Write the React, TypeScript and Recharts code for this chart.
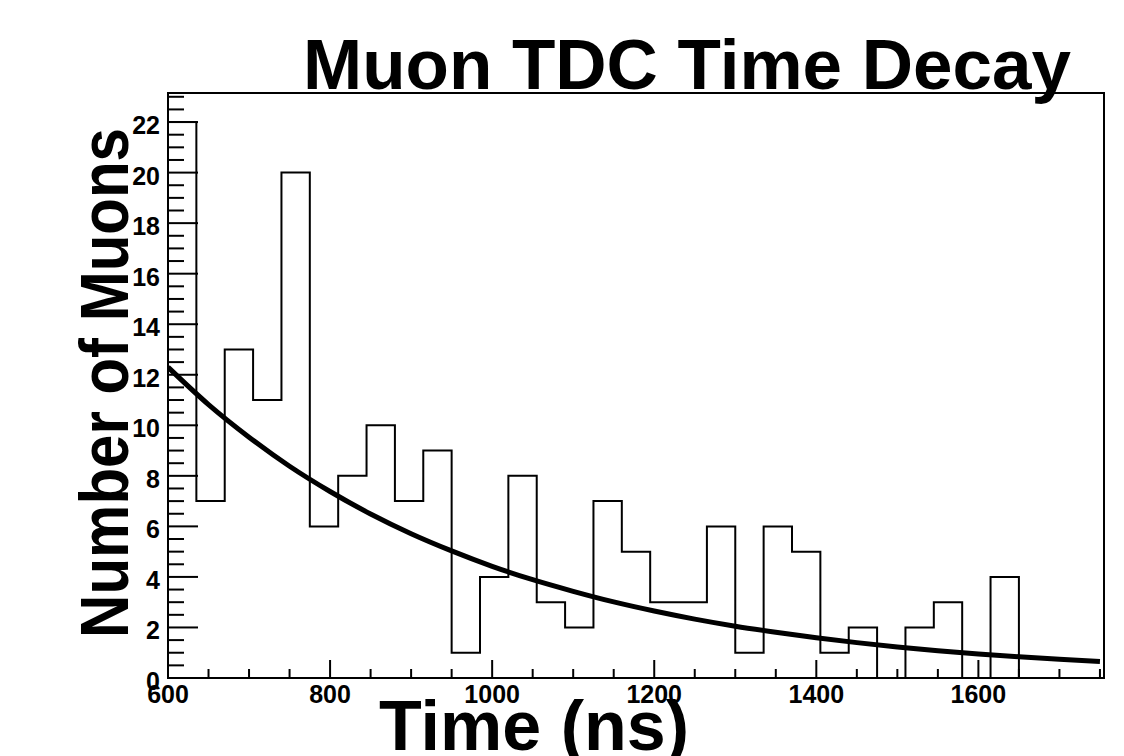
import { ComposedChart, Line, XAxis, YAxis, ReferenceArea } from 'recharts';

// histogram bins (lower edge, ns) and counts per bin
const binLow = [
  600, 635, 670, 705, 740, 775, 810, 845, 880, 915, 950,
  985, 1020, 1055, 1090, 1125, 1160, 1195, 1230, 1265, 1300, 1335,
  1370, 1405, 1440, 1475, 1510, 1545, 1580, 1615, 1650, 1685, 1720, 1755,
];
const counts = [
  22, 7, 13, 11, 20, 6, 8, 10, 7, 9, 1,
  4, 8, 3, 2, 7, 5, 3, 3, 6, 1, 6,
  5, 1, 2, 0, 2, 3, 0, 4, 0, 0, 0, 0,
];

// exponential fit curve
const fitTime = [
  600, 650, 700, 750, 800, 850, 900, 950, 1000, 1050, 1100, 1150,
  1200, 1250, 1300, 1350, 1400, 1450, 1500, 1550, 1600, 1650, 1700, 1750,
];
const fitValue = [
  12.3, 10.82, 9.53, 8.38, 7.38, 6.49, 5.71, 5.03, 4.42, 3.89, 3.43, 3.01,
  2.65, 2.33, 2.05, 1.81, 1.59, 1.4, 1.23, 1.08, 0.95, 0.84, 0.74, 0.65,
];

const xTicks = [
  600, 650, 700, 750, 800, 850, 900, 950, 1000, 1050, 1100, 1150,
  1200, 1250, 1300, 1350, 1400, 1450, 1500, 1550, 1600, 1650, 1700, 1750,
];
const yTicks = [
  0, 0.5, 1, 1.5, 2, 2.5, 3, 3.5, 4, 4.5, 5, 5.5, 6, 6.5, 7, 7.5, 8, 8.5,
  9, 9.5, 10, 10.5, 11, 11.5, 12, 12.5, 13, 13.5, 14, 14.5, 15, 15.5, 16,
  16.5, 17, 17.5, 18, 18.5, 19, 19.5, 20, 20.5, 21, 21.5, 22, 22.5, 23,
];

const X_MIN = 600;
const X_MAX = 1755;
const Y_MAX = 23.15;
const FONT = '"Liberation Sans", Arial, Helvetica, sans-serif';

const histData = binLow.map((t, i) => ({ t, n: counts[i] }));
const fitData = fitTime.map((t, i) => ({ t, fit: fitValue[i] }));

const XTick = (props: any) => {
  const { x, y, payload } = props;
  const v = payload.value;
  const major = v % 200 === 0;
  return (
    <g>
      <line x1={x} x2={x} y1={y} y2={y - (major ? 18 : 9)} stroke="#000" strokeWidth={2} />
      {major && (
        <text x={x} y={y + 25} textAnchor="middle" fontFamily={FONT} fontWeight="bold" fontSize={25} fill="#000">
          {v}
        </text>
      )}
    </g>
  );
};

const YTick = (props: any) => {
  const { x, y, payload } = props;
  const v = payload.value;
  const major = v % 2 === 0;
  const ax = x + 8;
  return (
    <g>
      <line x1={ax} x2={ax + (major ? 30 : 16)} y1={y} y2={y} stroke="#000" strokeWidth={2} />
      {major && (
        <text x={x} y={y + 12} textAnchor="end" fontFamily={FONT} fontWeight="bold" fontSize={25} fill="#000">
          {v}
        </text>
      )}
    </g>
  );
};

export default function App() {
  return (
    <div style={{ position: 'absolute', left: 0, top: 0, width: 1124, height: 756, background: '#fff' }}>
      <ComposedChart
        width={1124}
        height={756}
        margin={{ top: 93, right: 20, bottom: 48, left: 108 }}
      >
        <XAxis
          dataKey="t"
          type="number"
          domain={[X_MIN, X_MAX]}
          allowDataOverflow
          ticks={xTicks}
          interval={0}
          height={30}
          tickSize={0}
          tickMargin={0}
          tickLine={false}
          axisLine={{ stroke: '#000', strokeWidth: 2 }}
          tick={<XTick />}
        />
        <YAxis
          type="number"
          domain={[0, Y_MAX]}
          allowDataOverflow
          ticks={yTicks}
          interval={0}
          width={60}
          tickSize={0}
          tickMargin={8}
          tickLine={false}
          axisLine={{ stroke: '#000', strokeWidth: 2 }}
          tick={<YTick />}
        />
        <ReferenceArea x1={X_MIN} x2={X_MAX} y1={0} y2={Y_MAX} fill="none" stroke="#000" strokeWidth={2} ifOverflow="visible" />
        <Line
          data={histData}
          dataKey="n"
          type="stepAfter"
          stroke="#000"
          strokeWidth={2}
          dot={false}
          isAnimationActive={false}
        />
        <Line
          data={fitData}
          dataKey="fit"
          type="monotone"
          stroke="#000"
          strokeWidth={5}
          dot={false}
          isAnimationActive={false}
        />
      </ComposedChart>
      <svg width={1124} height={756} style={{ position: 'absolute', left: 0, top: 0, pointerEvents: 'none' }}>
        <text x={687} y={89} textAnchor="middle" fontFamily={FONT} fontWeight="bold" fontSize={71} fill="#000">
          Muon TDC Time Decay
        </text>
        <text x={534} y={750} textAnchor="middle" fontFamily={FONT} fontWeight="bold" fontSize={70} fill="#000">
          Time (ns)
        </text>
        <text
          transform="translate(128,383) rotate(-90) scale(1,1.15)"
          textAnchor="middle"
          fontFamily={FONT}
          fontWeight="bold"
          fontSize={60}
          fill="#000"
        >
          Number of Muons
        </text>
      </svg>
    </div>
  );
}
